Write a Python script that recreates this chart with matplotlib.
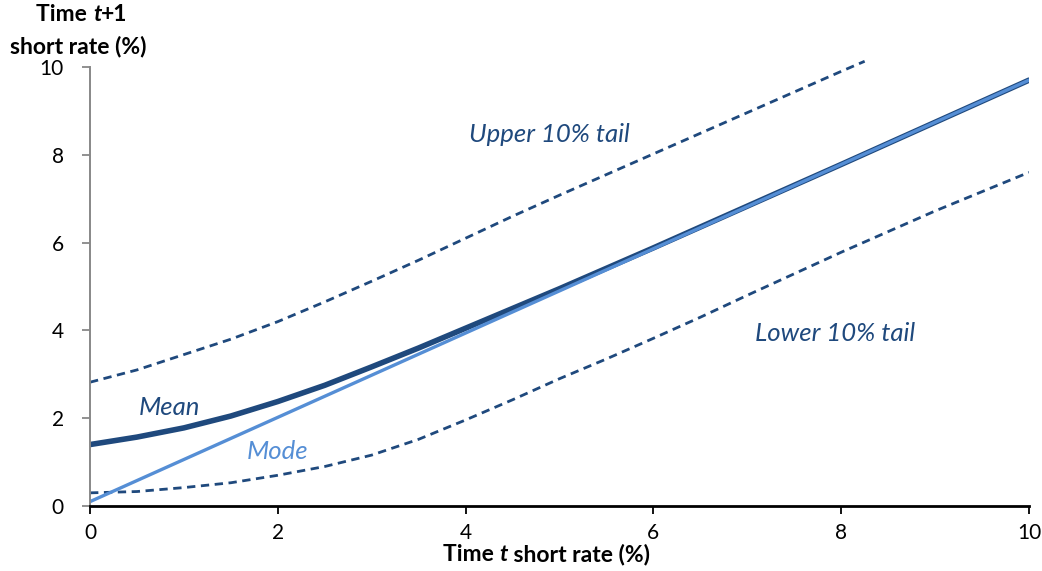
import matplotlib.pyplot as plt

plt.rcParams['font.family'] = ['Lato', 'DejaVu Sans']

# time t short rate (%) -> time t+1 short rate (%)
x = [0, 0.5, 1, 1.5, 2, 2.5, 3, 3.5, 4, 4.5, 5, 6, 7, 8, 9, 10]
mean = [1.4, 1.57, 1.78, 2.05, 2.38, 2.75, 3.17, 3.6, 4.05, 4.5, 4.95, 5.88, 6.83, 7.78, 8.74, 9.7]
x_mode = [0, 10]
mode = [0.1, 9.7]
x_upper = [0, 0.5, 1, 1.5, 2, 2.5, 3, 3.5, 4, 4.5, 5, 6, 7, 8, 8.25]
upper = [2.82, 3.1, 3.45, 3.8, 4.2, 4.65, 5.12, 5.6, 6.1, 6.6, 7.08, 8.02, 8.96, 9.9, 10.13]
x_lower = [0, 0.5, 1, 1.5, 2, 2.5, 3, 3.5, 4, 4.5, 5, 5.5, 6, 6.5, 7, 8, 9, 10]
lower = [0.3, 0.33, 0.42, 0.53, 0.7, 0.9, 1.16, 1.52, 1.96, 2.42, 2.9, 3.35, 3.82, 4.3, 4.8, 5.78, 6.72, 7.6]

dark = '#1F497D'
light = '#558ED5'

fig = plt.figure(figsize=(10.42, 5.71), dpi=100)
ax = fig.add_axes([0.0864, 0.1138, 0.9011, 0.7689])

ax.plot(x_upper, upper, color=dark, lw=2, dashes=(3, 2), clip_on=False)
ax.plot(x_lower, lower, color=dark, lw=2, dashes=(3, 2))
ax.plot(x, mean, color=dark, lw=4, solid_capstyle='round')
ax.plot(x_mode, mode, color=light, lw=2.4, solid_capstyle='round')

ax.text(4.89, 8.47, 'Upper 10% tail', color=dark, style='italic', fontsize=18.5, ha='center', va='center')
ax.text(7.93, 3.94, 'Lower 10% tail', color=dark, style='italic', fontsize=18.5, ha='center', va='center')
ax.text(0.85, 2.25, 'Mean', color=dark, style='italic', fontsize=18.5, ha='center', va='center')
ax.text(2.0, 1.25, 'Mode', color=light, style='italic', fontsize=18.5, ha='center', va='center')

ax.set_xlim(0, 10)
ax.set_ylim(0, 10)
ax.set_xticks([0, 2, 4, 6, 8, 10])
ax.set_yticks([0, 2, 4, 6, 8, 10])
ax.tick_params(labelsize=15)
ax.tick_params(axis='x', direction='out', length=6, width=1.3, color='black', pad=6)
ax.tick_params(axis='y', direction='out', length=6, width=1.3, color='#888888', pad=13)

for s in ['top', 'right']:
    ax.spines[s].set_visible(False)
ax.spines['left'].set_color('#888888')
ax.spines['left'].set_linewidth(1.4)
ax.spines['bottom'].set_color('black')
ax.spines['bottom'].set_linewidth(2)
ax.spines['bottom'].set_zorder(5)

# x axis title with italic t
t1 = fig.text(0.425, 0.017, 'Time ', fontsize=16.5, fontweight='bold', va='baseline')
t2 = ax.annotate('t', xy=(1, 0), xycoords=t1, fontsize=16.5, fontweight='bold', style='italic', va='bottom')
ax.annotate(' short rate (%)', xy=(1, 0), xycoords=t2, fontsize=16.5, fontweight='bold', va='bottom')

# y axis title on top
y1 = fig.text(0.035, 0.964, 'Time ', fontsize=16.5, fontweight='bold', va='baseline')
y2 = ax.annotate('t', xy=(1, 0), xycoords=y1, fontsize=16.5, fontweight='bold', style='italic', va='bottom')
ax.annotate('+1', xy=(1, 0), xycoords=y2, fontsize=16.5, fontweight='bold', va='bottom')
fig.text(0.0755, 0.907, 'short rate (%)', fontsize=16.5, fontweight='bold', ha='center', va='baseline')

fig.savefig('out.png', dpi=100)
